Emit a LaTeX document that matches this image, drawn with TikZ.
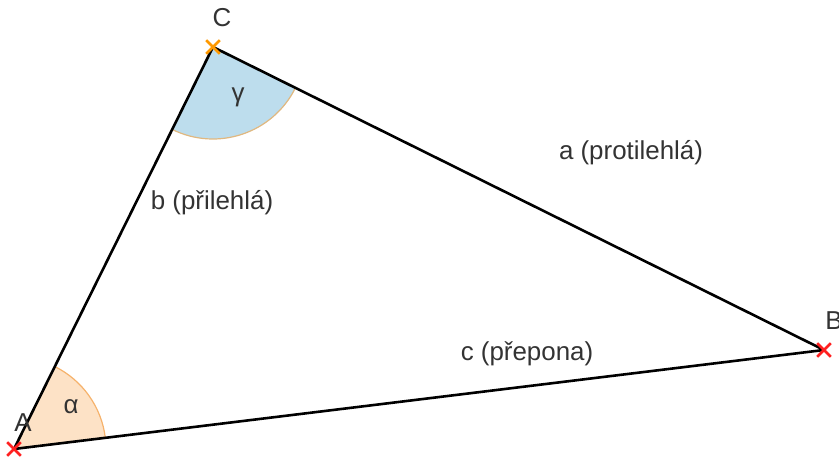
\documentclass[tikz,border=0pt]{standalone}
\usepackage{fontspec}
\setmainfont{Liberation Sans}
\usetikzlibrary{shapes.misc,angles}
\definecolor{txt}{HTML}{333333}
\definecolor{alphafill}{HTML}{FDE2C6}
\definecolor{alphaline}{HTML}{F6B26B}
\definecolor{gammafill}{HTML}{BDDDED}
\definecolor{gammaline}{HTML}{E0B880}
\definecolor{crossred}{HTML}{FF2020}
\definecolor{crossorange}{HTML}{FF9900}
\tikzset{
  lbl/.style={text=txt, font=\fontsize{26}{30}\selectfont, inner sep=0pt},
  vx/.style={cross out, draw=#1, line width=2.6bp, minimum size=11bp, inner sep=0pt},
  side/.style={line width=2.6bp, black},
}
\begin{document}
\begin{tikzpicture}[x=1bp,y=1bp]
\useasboundingbox (0,0) rectangle (839,462);
\coordinate (A) at (14,13);
\coordinate (B) at (824,112);
\coordinate (C) at (213,415);
\pic[fill=alphafill, draw=alphaline, line width=1.2bp, angle radius=92bp] {angle=B--A--C};
\pic[fill=gammafill, draw=gammaline, line width=1.2bp, angle radius=92bp] {angle=A--C--B};
\draw[side, line join=round] (A) -- (B) -- (C) -- cycle;
\node[vx=crossred] (xA) at (A) {};
\node[vx=crossred] (xB) at (B) {};
\node[vx=crossorange] (xC) at (C) {};
\node[lbl] (lA) at (23,39) {A};
\node[lbl] (lB) at (834,141) {B};
\node[lbl] (lC) at (222,444) {C};
\node[lbl] (al) at (71,55) {α};
\node[lbl] (ga) at (238,365) {γ};
\node[lbl] (sa) at (631,309) {a (protilehlá)};
\node[lbl] (sb) at (212,259) {b (přilehlá)};
\node[lbl] (sc) at (527,108) {c (přepona)};
\end{tikzpicture}
\end{document}
